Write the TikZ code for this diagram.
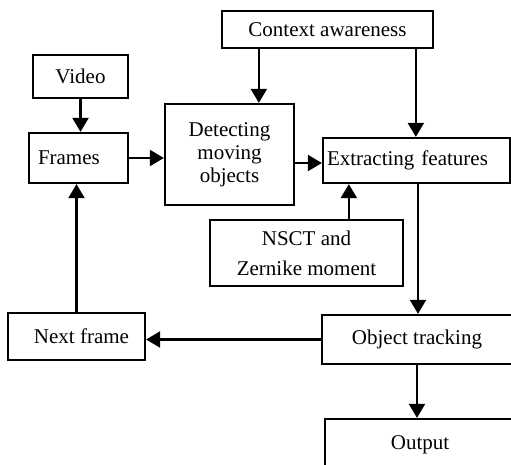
\documentclass[tikz,border=0pt]{standalone}
\usepackage{fontspec}
\setmainfont{Liberation Serif}
\usetikzlibrary{arrows.meta,calc}
\begin{document}
\begin{tikzpicture}[x=1pt,y=-1pt,
  box/.style={draw,line width=2.3pt,inner sep=0pt,font=\fontsize{21}{23}\selectfont,align=center},
  arr/.style={line width=2.3pt,-{Triangle[length=14pt,width=16pt]}},
  ln/.style={line width=2.3pt}]
\useasboundingbox (0,0) rectangle (511,464);
\node[box,minimum width=211pt,minimum height=37pt] (ctx) at (327.5,29.5) {Context awareness};
\node[box,minimum width=95pt,minimum height=43pt] (vid) at (80.5,76.5) {Video};
\node[box,text width=81pt,inner xsep=9pt,align=left,minimum height=50pt] (frm) at (78.5,158) {Frames};
\node[box,minimum width=129pt,minimum height=101pt] (det) at (229.5,154.5) {Detecting\\moving\\objects};
\node[box,text width=179pt,inner xsep=4pt,align=left,minimum height=45pt] (ext) at (416.5,160.5) {Extracting features};
\node[box,minimum width=193pt,minimum height=66pt,font=\fontsize{21}{30}\selectfont] (nsct) at (306.5,253) {NSCT and\\Zernike moment};
\node[box,minimum width=137pt,minimum height=47pt] (nxt) at (76.5,336.5) {\hspace*{10pt}Next frame};
\node[box,minimum width=190pt,minimum height=49pt] (obj) at (417,339.5) {Object tracking};
\node[box,minimum width=190pt,minimum height=51pt] (out) at (420,444.5) {Output};
\draw[arr] (vid.south) -- (vid.south |- frm.north);
\draw[arr] (frm.east) -- (frm.east -| det.west);
\coordinate (c1) at ($(ctx.south west)+(38,0)$);
\draw[arr] (c1) -- (c1 |- det.north);
\coordinate (c2) at ($(ctx.south west)+(195,0)$);
\draw[arr] (c2) -- (c2 |- ext.north);
\coordinate (d1) at ([yshift=-8.5pt]det.east);
\draw[arr] (d1) -- (d1 -| ext.west);
\coordinate (n1) at ($(nsct.north west)+(140,0)$);
\draw[arr] (n1) -- (n1 |- ext.south);
\coordinate (e1) at ($(ext.south)+(1.5,0)$);
\draw[arr] (e1) -- (e1 |- obj.north);
\draw[arr] (obj.west) -- (obj.west -| nxt.east);
\draw[arr] (nxt.north) -- (nxt.north |- frm.south);
\draw[arr] (obj.south) -- (obj.south |- out.north);
\end{tikzpicture}
\end{document}
